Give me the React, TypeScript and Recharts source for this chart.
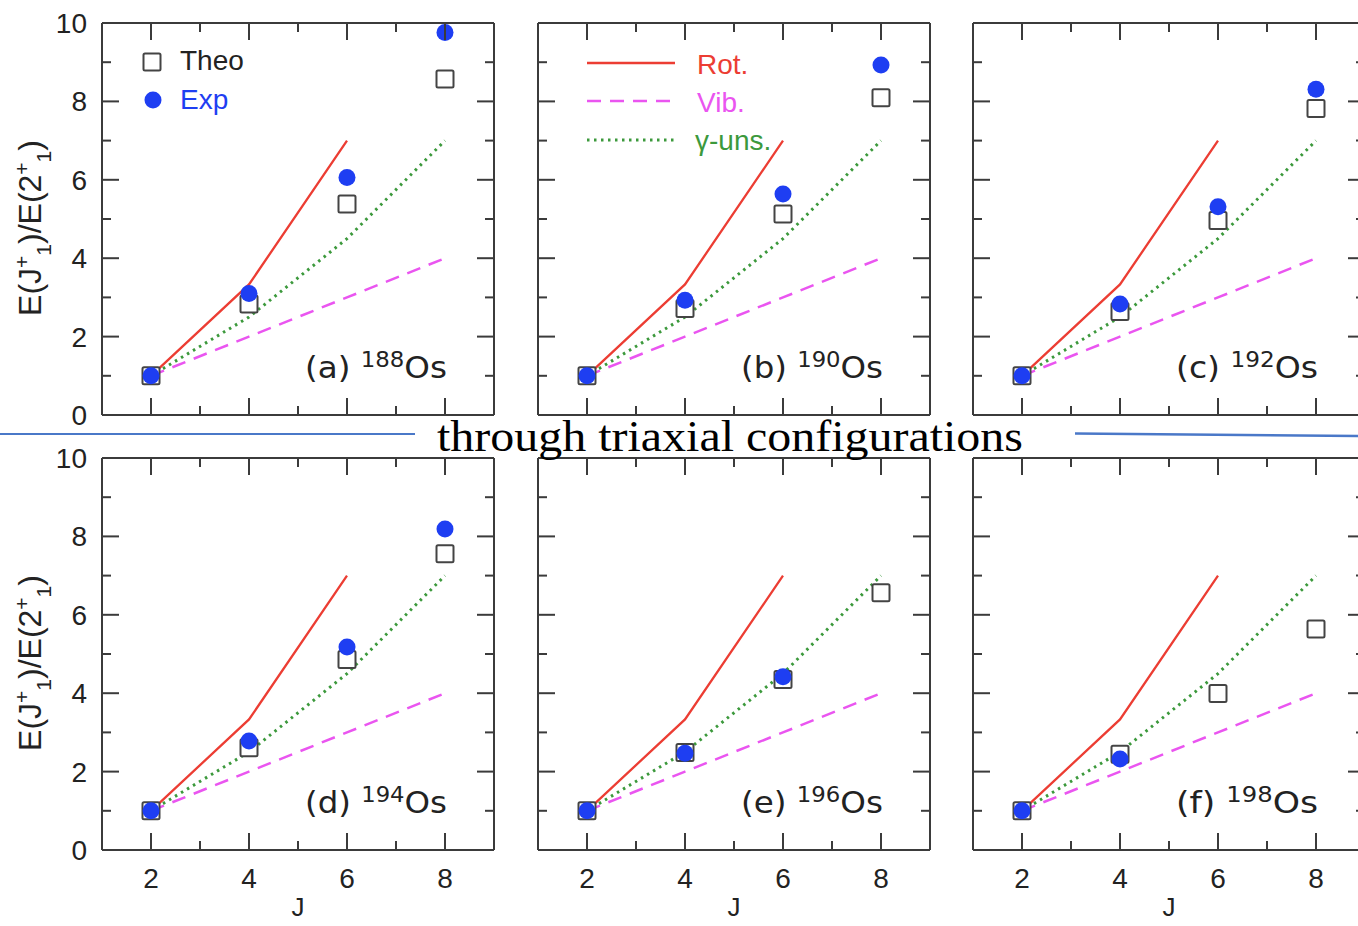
import React from 'react';
import { ComposedChart, Line, XAxis, YAxis } from 'recharts';

// ---------- data ----------
const spinJ = [2, 4, 6, 8];
const rotorRatio = [1, 3.33, 7, null];
const vibratorRatio = [1, 2, 3, 4];
const gammaUnstableRatio = [1, 2.5, 4.5, 7];

const theo188 = [1, 2.83, 5.38, 8.57];
const exp188 = [1, 3.1, 6.06, 9.76];
const theo190 = [1, 2.72, 5.13, 8.09];
const exp190 = [1, 2.93, 5.64, 8.93];
const theo192 = [1, 2.64, 4.96, 7.82];
const exp192 = [1, 2.83, 5.31, 8.31];
const theo194 = [1, 2.61, 4.86, 7.56];
const exp194 = [1, 2.78, 5.18, 8.19];
const theo196 = [1, 2.49, 4.35, 6.56];
const exp196 = [1, 2.47, 4.42, null];
const theo198 = [1, 2.44, 3.99, 5.64];
const exp198 = [1, 2.32, null, null];

const panelLetters = ['a', 'b', 'c', 'd', 'e', 'f'];
const massNumbers = ['188', '190', '192', '194', '196', '198'];
const xTicks = [2, 3, 4, 5, 6, 7, 8];
const yTicks = [0, 1, 2, 3, 4, 5, 6, 7, 8, 9, 10];
const titleText = 'through triaxial configurations';

const theoSets = [theo188, theo190, theo192, theo194, theo196, theo198];
const expSets = [exp188, exp190, exp192, exp194, exp196, exp198];

// ---------- layout / style ----------
const PLOT = 392;
const COLS = [102, 538, 973];
const ROWS = [23, 458];
const AXL = 100;
const AXR = 20;
const AXT = 23;
const AXB = 80;
const FRAME = '#3b3b3b';
const SANS = "'Liberation Sans', Arial, Helvetica, sans-serif";
const LABEL_FONT = "'DejaVu Sans', 'Liberation Sans', sans-serif";
const SERIF = "'Liberation Serif', 'Times New Roman', serif";
const RED = '#ec3d33';
const MAGENTA = '#ea55f0';
const GREEN = '#3c993c';
const BLUE = '#1e3ef2';
const TEXT = '#222';

const buildRows = (i: number) =>
  spinJ.map((j, k) => ({
    J: j,
    rot: rotorRatio[k],
    vib: vibratorRatio[k],
    gam: gammaUnstableRatio[k],
    theo: theoSets[i][k],
    exp: expSets[i][k],
  }));

const isMajorX = (v: number) => v % 2 === 0;
const isMajorY = (v: number) => v % 2 === 0;

const BottomTick = (p: any, showLabel: boolean) => {
  const { x, y, payload } = p;
  const v = payload.value;
  const major = isMajorX(v);
  return (
    <g key={`bt-${v}`}>
      <line x1={x} x2={x} y1={y} y2={y - (major ? 17 : 9)} stroke={FRAME} strokeWidth={2} />
      {showLabel && major ? (
        <text x={x} y={y + 38} textAnchor="middle" fontSize={28} fontFamily={SANS} fill={TEXT}>
          {v}
        </text>
      ) : null}
    </g>
  );
};

const TopTick = (p: any) => {
  const { x, y, payload } = p;
  const v = payload.value;
  return (
    <g key={`tt-${v}`}>
      <line x1={x} x2={x} y1={y} y2={y + (isMajorX(v) ? 17 : 9)} stroke={FRAME} strokeWidth={2} />
    </g>
  );
};

const LeftTick = (p: any, showLabel: boolean) => {
  const { x, y, payload } = p;
  const v = payload.value;
  const major = isMajorY(v);
  return (
    <g key={`lt-${v}`}>
      <line x1={x} x2={x + (major ? 17 : 9)} y1={y} y2={y} stroke={FRAME} strokeWidth={2} />
      {showLabel && major ? (
        <text x={x - 15} y={y + 10} textAnchor="end" fontSize={28} fontFamily={SANS} fill={TEXT}>
          {v}
        </text>
      ) : null}
    </g>
  );
};

const RightTick = (p: any) => {
  const { x, y, payload } = p;
  const v = payload.value;
  return (
    <g key={`rt-${v}`}>
      <line x1={x} x2={x - (isMajorY(v) ? 17 : 9)} y1={y} y2={y} stroke={FRAME} strokeWidth={2} />
    </g>
  );
};

const SquareDot = (p: any) => {
  const { cx, cy, value, index } = p;
  if (value == null || cy == null || isNaN(cy)) return <g key={`sq-${index}`} />;
  return (
    <rect key={`sq-${index}`} x={cx - 8.5} y={cy - 8.5} width={17} height={17} rx={1.5}
      fill="#fff" stroke="#444" strokeWidth={2} />
  );
};

const CircleDot = (p: any) => {
  const { cx, cy, value, index } = p;
  if (value == null || cy == null || isNaN(cy)) return <g key={`ci-${index}`} />;
  return <circle key={`ci-${index}`} cx={cx} cy={cy} r={8.5} fill={BLUE} stroke="none" />;
};

const Panel = ({ i }: { i: number }) => {
  const col = i % 3;
  const row = Math.floor(i / 3);
  const rows = buildRows(i);
  const axisLine = { stroke: FRAME, strokeWidth: 2 };
  return (
    <div style={{ position: 'absolute', left: COLS[col] - AXL, top: ROWS[row] - AXT }}>
      <ComposedChart width={AXL + PLOT + AXR} height={AXT + PLOT + AXB} data={rows}
        margin={{ top: 0, right: 0, bottom: 0, left: 0 }}>
        <XAxis xAxisId="b" dataKey="J" type="number" domain={[1, 9]} ticks={xTicks} interval={0}
          height={AXB} tickSize={0} tickMargin={0} tickLine={false} axisLine={axisLine}
          tick={(p: any) => BottomTick(p, row === 1)} allowDataOverflow />
        <XAxis xAxisId="t" orientation="top" dataKey="J" type="number" domain={[1, 9]} ticks={xTicks}
          interval={0} height={AXT} tickSize={0} tickMargin={0} tickLine={false} axisLine={axisLine}
          tick={(p: any) => TopTick(p)} allowDataOverflow />
        <YAxis yAxisId="l" type="number" domain={[0, 10]} ticks={yTicks} interval={0} width={AXL}
          tickSize={0} tickMargin={0} tickLine={false} axisLine={axisLine}
          tick={(p: any) => LeftTick(p, col === 0)} allowDataOverflow />
        <YAxis yAxisId="r" orientation="right" type="number" domain={[0, 10]} ticks={yTicks} interval={0}
          width={AXR} tickSize={0} tickMargin={0} tickLine={false} axisLine={axisLine}
          tick={(p: any) => RightTick(p)} allowDataOverflow />
        <Line xAxisId="b" yAxisId="l" dataKey="theo" stroke="none" isAnimationActive={false}
          dot={SquareDot} activeDot={false} legendType="none" />
        <Line xAxisId="b" yAxisId="l" dataKey="exp" stroke="none" isAnimationActive={false}
          dot={CircleDot} activeDot={false} legendType="none" />
        <Line xAxisId="b" yAxisId="l" type="linear" dataKey="rot" stroke={RED} strokeWidth={2.3}
          dot={false} activeDot={false} isAnimationActive={false} />
        <Line xAxisId="b" yAxisId="l" type="linear" dataKey="vib" stroke={MAGENTA} strokeWidth={2.5}
          strokeDasharray="14 9" dot={false} activeDot={false} isAnimationActive={false} />
        <Line xAxisId="b" yAxisId="l" type="linear" dataKey="gam" stroke={GREEN} strokeWidth={3}
          strokeDasharray="2.5 4.5" dot={false} activeDot={false} isAnimationActive={false} />
      </ComposedChart>
    </div>
  );
};

const YLabel = ({ cy }: { cy: number }) => (
  <text transform={`rotate(-90 41 ${cy})`} x={41} y={cy} textAnchor="middle" fontSize={32}
    fontFamily={SANS} fill={TEXT}>
    E(J<tspan fontSize={21} dy={-12}>+</tspan>
    <tspan fontSize={21} dy={22}>1</tspan>
    <tspan dy={-10}>)/E(2</tspan>
    <tspan fontSize={21} dy={-12}>+</tspan>
    <tspan fontSize={21} dy={22}>1</tspan>
    <tspan dy={-10}>)</tspan>
  </text>
);

const Overlay = () => (
  <svg width={1358} height={926} style={{ position: 'absolute', left: 0, top: 0, pointerEvents: 'none' }}>
    {/* slide separator lines */}
    <line x1={0} y1={434} x2={415} y2={434} stroke="#4a78c8" strokeWidth={2} />
    <line x1={1075} y1={433.5} x2={1358} y2={436} stroke="#4a78c8" strokeWidth={2.5} />
    <text x={437} y={451} fontSize={44} fontFamily={SERIF} fill="#000" textLength={586}
      lengthAdjust="spacingAndGlyphs">{titleText}</text>

    <YLabel cy={228} />
    <YLabel cy={663} />

    {[0, 1, 2].map((c) => (
      <text key={`jx-${c}`} x={COLS[c] + PLOT / 2} y={916} textAnchor="middle" fontSize={26}
        fontFamily={SANS} fill={TEXT}>J</text>
    ))}

    {panelLetters.map((l, i) => {
      const c = i % 3;
      const r = Math.floor(i / 3);
      return (
        <text key={`pl-${l}`} x={COLS[c] + 203} y={ROWS[r] + 355} fontSize={30}
          fontFamily={LABEL_FONT} fill={TEXT} textLength={142} lengthAdjust="spacingAndGlyphs">
          ({l}){' '}
          <tspan fontSize={21} dy={-11}>{massNumbers[i]}</tspan>
          <tspan dy={11}>Os</tspan>
        </text>
      );
    })}

    {/* legend, panel (a) */}
    <rect x={143.5} y={53.5} width={17} height={17} rx={1.5} fill="#fff" stroke="#444" strokeWidth={2} />
    <text x={180} y={70} fontSize={28} fontFamily={SANS} fill={TEXT}>Theo</text>
    <circle cx={153} cy={100} r={8.5} fill={BLUE} />
    <text x={180} y={109} fontSize={28} fontFamily={SANS} fill={BLUE}>Exp</text>

    {/* legend, panel (b) */}
    <line x1={587} x2={675} y1={63} y2={63} stroke={RED} strokeWidth={2.5} />
    <text x={697} y={74} fontSize={28} fontFamily={SANS} fill={RED}>Rot.</text>
    <line x1={587} x2={675} y1={101} y2={101} stroke={MAGENTA} strokeWidth={2.5} strokeDasharray="14 9" />
    <text x={697} y={112} fontSize={28} fontFamily={SANS} fill={MAGENTA}>Vib.</text>
    <line x1={587} x2={675} y1={140} y2={140} stroke={GREEN} strokeWidth={3} strokeDasharray="2.5 4.5" />
    <text x={695} y={150} fontSize={28} fontFamily={SANS} fill={GREEN}>γ-uns.</text>
  </svg>
);

export default function App() {
  return (
    <div style={{ position: 'absolute', left: 0, top: 0, width: 1358, height: 926, overflow: 'hidden', background: '#fff' }}>
      {[0, 1, 2, 3, 4, 5].map((i) => (
        <Panel key={i} i={i} />
      ))}
      <Overlay />
    </div>
  );
}
